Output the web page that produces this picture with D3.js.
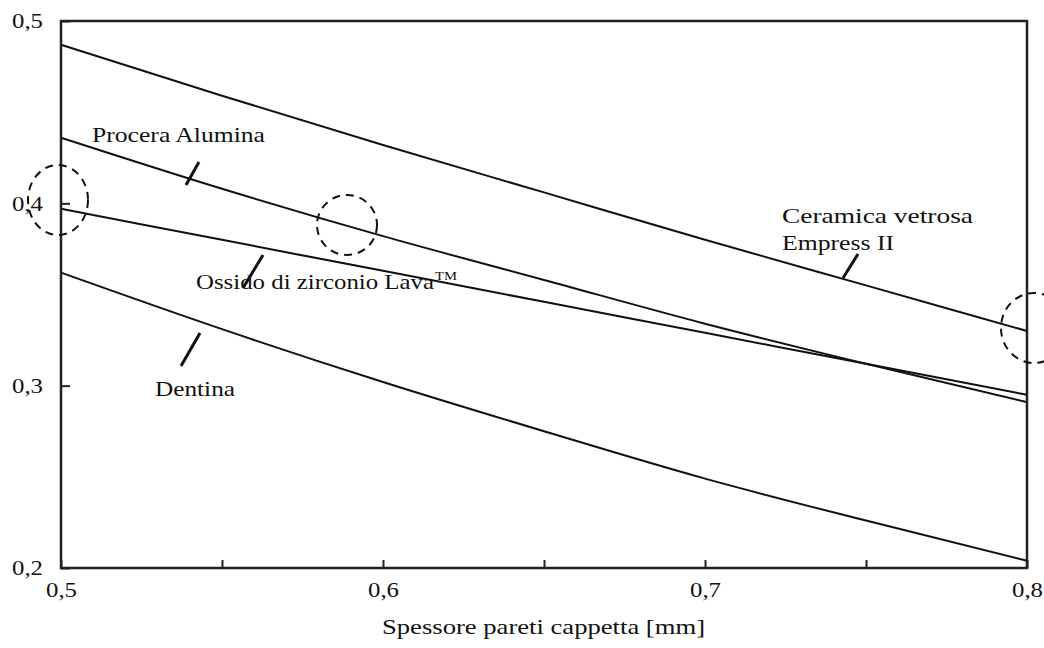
<!DOCTYPE html>
<html>
<head>
<meta charset="utf-8">
<script src="https://cdn.jsdelivr.net/npm/d3@7"></script>
<style>
  html, body { margin: 0; padding: 0; background: #fff; }
  svg { display: block; }
  text { font-family: "Liberation Serif", "Tinos", "DejaVu Serif", serif; fill: #111; }
</style>
</head>
<body>
<svg id="chart" width="1044" height="648"></svg>
<script>
// ---- data ----
const xValues = [0.5, 0.55, 0.6, 0.65, 0.7, 0.75, 0.8];
const empress = [0.487, 0.459, 0.432, 0.406, 0.380, 0.355, 0.330];
const procera = [0.436, 0.408, 0.382, 0.358, 0.334, 0.312, 0.291];
const zirconia = [0.397, 0.380, 0.363, 0.346, 0.329, 0.312, 0.295];
const dentina = [0.362, 0.331, 0.302, 0.275, 0.249, 0.226, 0.204];
const xTicks = [0.5, 0.55, 0.6, 0.65, 0.7, 0.75, 0.8];
const xTickLabels = ["0,5", "", "0,6", "", "0,7", "", "0,8"];
const yTicks = [0.2, 0.3, 0.4, 0.5];
const yTickLabels = ["0,2", "0,3", "0,4", "0,5"];
const xTitle = "Spessore pareti cappetta [mm]";

const svg = d3.select("#chart");
const L = 61, R = 1027, T = 21, B = 568;
const x = d3.scaleLinear().domain([0.5, 0.8]).range([L, R]);
const y = d3.scaleLinear().domain([0.2, 0.5]).range([B, T]);

// frame
svg.append("rect").attr("x", L).attr("y", T).attr("width", R - L).attr("height", B - T)
  .attr("fill", "none").attr("stroke", "#222").attr("stroke-width", 2.5);

// axes (ticks inward)
const xAxis = d3.axisBottom(x).tickValues(xTicks).tickSizeInner(-8).tickSizeOuter(0)
  .tickPadding(14).tickFormat((d, i) => xTickLabels[i]);
const gx = svg.append("g").attr("transform", `translate(0,${B})`).call(xAxis);
gx.select(".domain").remove();
gx.selectAll("line").attr("stroke", "#222").attr("stroke-width", 2);
gx.selectAll("text").attr("font-size", 21).attr("fill", "#111")
  .attr("textLength", (d, i) => xTickLabels[i] ? 31 : null).attr("lengthAdjust", "spacingAndGlyphs");

const yAxis = d3.axisLeft(y).tickValues(yTicks).tickSizeInner(-9).tickSizeOuter(0)
  .tickPadding(18).tickFormat((d, i) => yTickLabels[i]);
const gy = svg.append("g").attr("transform", `translate(${L},0)`).call(yAxis);
gy.select(".domain").remove();
gy.selectAll("line").attr("stroke", "#222").attr("stroke-width", 2);
gy.selectAll("text").attr("font-size", 21).attr("fill", "#111")
  .attr("textLength", 31).attr("lengthAdjust", "spacingAndGlyphs");

// series
const line = d3.line().x((d, i) => x(xValues[i])).y(d => y(d)).curve(d3.curveMonotoneX);
[empress, procera, zirconia, dentina].forEach(s => {
  svg.append("path").datum(s).attr("d", line)
    .attr("fill", "none").attr("stroke", "#111").attr("stroke-width", 2);
});

// labels and leaders
function leader(x1, y1, x2, y2) {
  svg.append("line").attr("x1", x1).attr("y1", y1).attr("x2", x2).attr("y2", y2)
    .attr("stroke", "#111").attr("stroke-width", 3);
}
function label(tx, ty, str, w) {
  return svg.append("text").attr("x", tx).attr("y", ty).attr("font-size", 21)
    .attr("textLength", w).attr("lengthAdjust", "spacingAndGlyphs").text(str);
}
label(92, 142, "Procera Alumina", 173);
leader(186, 185, 199, 162);

label(196, 289, "Ossido di zirconio Lava", 238);
svg.append("text").attr("x", 435).attr("y", 280).attr("font-size", 12)
  .attr("textLength", 22).attr("lengthAdjust", "spacingAndGlyphs").text("TM");
leader(243, 288, 263, 255);

label(155, 396, "Dentina", 80);
leader(181, 366, 200, 333);

label(782, 223, "Ceramica vetrosa", 191);
label(782, 250, "Empress II", 112);
leader(843, 278, 858, 254);

// dashed circles
function dashed(cx, cy, rx, ry) {
  svg.append("ellipse").attr("cx", cx).attr("cy", cy).attr("rx", rx).attr("ry", ry)
    .attr("fill", "none").attr("stroke", "#111").attr("stroke-width", 2)
    .attr("stroke-dasharray", "8,6");
}
dashed(58, 200, 30, 35);
dashed(347, 225, 30, 30);
dashed(1034, 328, 33, 35);

// x axis title
svg.append("text").attr("x", 382).attr("y", 634).attr("font-size", 21)
  .attr("textLength", 323).attr("lengthAdjust", "spacingAndGlyphs").text(xTitle);
</script>
</body>
</html>
